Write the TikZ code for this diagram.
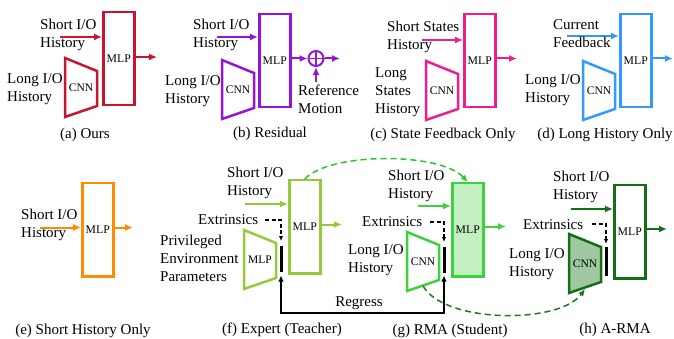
\documentclass[tikz,border=0pt]{standalone}
\usepackage{fontspec}
\setmainfont{Liberation Serif}
\usetikzlibrary{arrows.meta}
\definecolor{cred}{RGB}{200,20,45}
\definecolor{cpurple}{RGB}{150,20,215}
\definecolor{cpink}{RGB}{240,30,140}
\definecolor{cblue}{RGB}{51,153,255}
\definecolor{corange}{RGB}{255,140,0}
\definecolor{clgreen}{RGB}{150,200,60}
\definecolor{cbgreen}{RGB}{60,210,60}
\definecolor{cgfill}{RGB}{195,240,195}
\definecolor{cdgreen}{RGB}{20,110,20}
\definecolor{chfill}{RGB}{160,200,160}
\definecolor{ctopdash}{RGB}{40,200,40}
\definecolor{cbotdash}{RGB}{30,120,30}
\newcommand{\trapz}[3]{\draw[trapl,#1] (#2,#3) -- ++(32,13) -- ++(0,35) -- ++(-32,11) -- cycle;}
\begin{document}
\begin{tikzpicture}[x=1pt,y=-1pt, font=\fontsize{15}{18}\selectfont,
 mlp/.style={draw, line width=2.5pt, minimum width=31pt, minimum height=93pt, anchor=north west, inner sep=0, font=\fontsize{11.7}{13}\selectfont},
 lbl/.style={anchor=west, align=left, inner sep=0, yshift=1.5pt},
 captxt/.style={inner sep=0},
 arr/.style={line width=2pt, -{Latex[length=8pt,width=7pt]}},
 trapl/.style={line width=2.5pt, line join=miter},
 dasharr/.style={line width=1.2pt, black, dash pattern=on 4pt off 2.5pt, -{Latex[length=5pt,width=4.5pt]}},
 barline/.style={line width=3pt, black},
 small/.style={font=\fontsize{11.5}{13}\selectfont, inner sep=0},
 curvedash/.style={line width=1.5pt, dash pattern=on 6pt off 4pt, -{Latex[length=7pt,width=6pt]}}]
\useasboundingbox (0,0) rectangle (674,339);

% ---------- (a)
\node[mlp, draw=cred] (mlpA) at (102,11) {MLP};
\trapz{draw=cred}{65}{58}
\node[small] (cnnA) at (81,88) {CNN};
\coordinate (sA) at (60,37);
\draw[arr, cred] (sA) -- (sA -| mlpA.west);
\coordinate (oA) at (157,57);
\draw[arr, cred] (mlpA.east |- oA) -- (oA);
\node[lbl] (tA1) at (40,36) {Short I/O\\History};
\node[lbl] (tA2) at (7,91) {Long I/O\\History};
\node[captxt] (capA) at (85,135) {(a) Ours};

% ---------- (b)
\node[mlp, draw=cpurple] (mlpB) at (258,13) {MLP};
\trapz{draw=cpurple}{222}{60}
\node[small] (cnnB) at (238,90) {CNN};
\coordinate (sB) at (217,37);
\draw[arr, cpurple] (sB) -- (sB -| mlpB.west);
\node[circle, draw=cpurple, line width=2pt, minimum size=15pt, inner sep=0] (sumB) at (316,58.5) {};
\draw[cpurple, line width=1.5pt] (sumB.north) -- (sumB.south) (sumB.west) -- (sumB.east);
\draw[arr, cpurple] (mlpB.east |- sumB.west) -- (sumB.west);
\coordinate (oB) at (340,58.5);
\draw[arr, cpurple] (sumB.east) -- (oB);
\coordinate (rB) at (316,82);
\draw[arr, cpurple] (rB) -- (sumB.south);
\node[lbl] (tB1) at (193,36) {Short I/O\\History};
\node[lbl] (tB2) at (165,93) {Long I/O\\History};
\node[lbl] (tB3) at (298,101) {Reference\\Motion};
\node[captxt] (capB) at (270,134) {(b) Residual};

% ---------- (c)
\node[mlp, draw=cpink] (mlpC) at (463,13) {MLP};
\trapz{draw=cpink}{426}{61}
\node[small] (cnnC) at (442,91) {CNN};
\coordinate (sC) at (422,40);
\draw[arr, cpink] (sC) -- (sC -| mlpC.west);
\coordinate (oC) at (517,58.5);
\draw[arr, cpink] (mlpC.east |- oC) -- (oC);
\node[lbl] (tC1) at (387,38.5) {Short States\\History};
\node[lbl] (tC2) at (375,93.5) {Long\\States\\History};
\node[captxt] (capC) at (443,135) {(c) State Feedback Only};

% ---------- (d)
\node[mlp, draw=cblue] (mlpD) at (619,13) {MLP};
\trapz{draw=cblue}{583}{61}
\node[small] (cnnD) at (599,91) {CNN};
\coordinate (sD) at (567,36);
\draw[arr, cblue] (sD) -- (sD -| mlpD.west);
\coordinate (oD) at (673,58.5);
\draw[arr, cblue] (mlpD.east |- oD) -- (oD);
\node[lbl] (tD1) at (553,35.5) {Current\\Feedback};
\node[lbl] (tD2) at (525,91.5) {Long I/O\\History};
\node[captxt] (capD) at (605,135) {(d) Long History Only};

% ---------- (e)
\node[mlp, draw=corange] (mlpE) at (81,182) {MLP};
\coordinate (sE) at (40,227.5);
\draw[arr, corange] (sE) -- (sE -| mlpE.west);
\coordinate (oE) at (133,227.5);
\draw[arr, corange] (mlpE.east |- oE) -- (oE);
\node[lbl] (tE1) at (21,226) {Short I/O\\History};
\node[captxt] (capE) at (83,331) {(e) Short History Only};

% ---------- (f)
\node[mlp, draw=clgreen] (mlpF) at (288,179) {MLP};
\trapz{draw=clgreen}{244}{230}
\node[small] (encF) at (260,259.5) {MLP};
\coordinate (sF) at (245,204);
\draw[arr, clgreen] (sF) -- (sF -| mlpF.west);
\coordinate (oF) at (342,224.5);
\draw[arr, clgreen] (mlpF.east |- oF) -- (oF);
\node[lbl] (tF1) at (227,184.5) {Short I/O\\History};
\node[lbl] (extF) at (198,221) {Extrinsics};
\node[lbl] (tF2) at (160,260) {Privileged\\Environment\\Parameters};
\node[captxt] (capF) at (282,330) {(f) Expert (Teacher)};
\coordinate (fdS) at (265,220);
\coordinate (fdE) at (281,241);
\draw[dasharr] (fdS) -| (fdE);
\coordinate (fbT) at (281,246);
\coordinate (fbB) at (281,272);
\draw[barline] (fbT) -- (fbB);

% ---------- (g)
\node[mlp, draw=cbgreen, fill=cgfill] (mlpG) at (451,182) {MLP};
\trapz{draw=cbgreen}{407}{232}
\node[small] (cnnG) at (423,261.5) {CNN};
\coordinate (sG) at (418,206);
\draw[arr, cbgreen] (sG) -- (sG -| mlpG.west);
\coordinate (oG) at (506,226.5);
\draw[arr, cbgreen] (mlpG.east |- oG) -- (oG);
\node[lbl] (tG1) at (388,187.5) {Short I/O\\History};
\node[lbl] (extG) at (362,223) {Extrinsics};
\node[lbl] (tG2) at (348,262) {Long I/O\\History};
\node[captxt] (capG) at (450,331) {(g) RMA (Student)};
\coordinate (gdS) at (430,222);
\coordinate (gdE) at (444,242);
\draw[dasharr] (gdS) -| (gdE);
\coordinate (gbT) at (444,247);
\coordinate (gbB) at (444,273);
\draw[barline] (gbT) -- (gbB);

% ---------- (h)
\node[mlp, draw=cdgreen, fill=white] (mlpH) at (613,184) {MLP};
\trapz{draw=cdgreen, fill=chfill}{569}{234}
\node[small] (cnnH) at (585,263.5) {CNN};
\coordinate (sH) at (571,209);
\draw[arr, cdgreen] (sH) -- (sH -| mlpH.west);
\coordinate (oH) at (667,229);
\draw[arr, cdgreen] (mlpH.east |- oH) -- (oH);
\node[lbl] (tH1) at (553,188) {Short I/O\\History};
\node[lbl] (extH) at (523,226) {Extrinsics};
\node[lbl] (tH2) at (509,265.5) {Long I/O\\History};
\node[captxt] (capH) at (615,330) {(h) A-RMA};
\coordinate (hdS) at (592,224);
\coordinate (hdE) at (606,244);
\draw[dasharr] (hdS) -| (hdE);
\coordinate (hbT) at (606,247);
\coordinate (hbB) at (606,276);
\draw[barline] (hbT) -- (hbB);

% ---------- regress
\coordinate (rgF) at (281,275.5);
\coordinate (rgG) at (444,275.5);
\draw[line width=1.5pt, {Latex[length=6pt,width=5.5pt]}-{Latex[length=6pt,width=5.5pt]}] (rgF) -- (281,313) -- (444,313) -- (rgG);
\node[inner sep=0] (regress) at (359,303) {Regress};

% ---------- curves
\draw[curvedash, ctopdash] (mlpF.north) .. controls (330,152) and (440,152) .. (mlpG.north);
\coordinate (cvS) at (423,286);
\coordinate (cvE) at (585,289);
\draw[curvedash, cbotdash] (cvS) .. controls (445,324) and (560,324) .. (cvE);
\end{tikzpicture}
\end{document}
